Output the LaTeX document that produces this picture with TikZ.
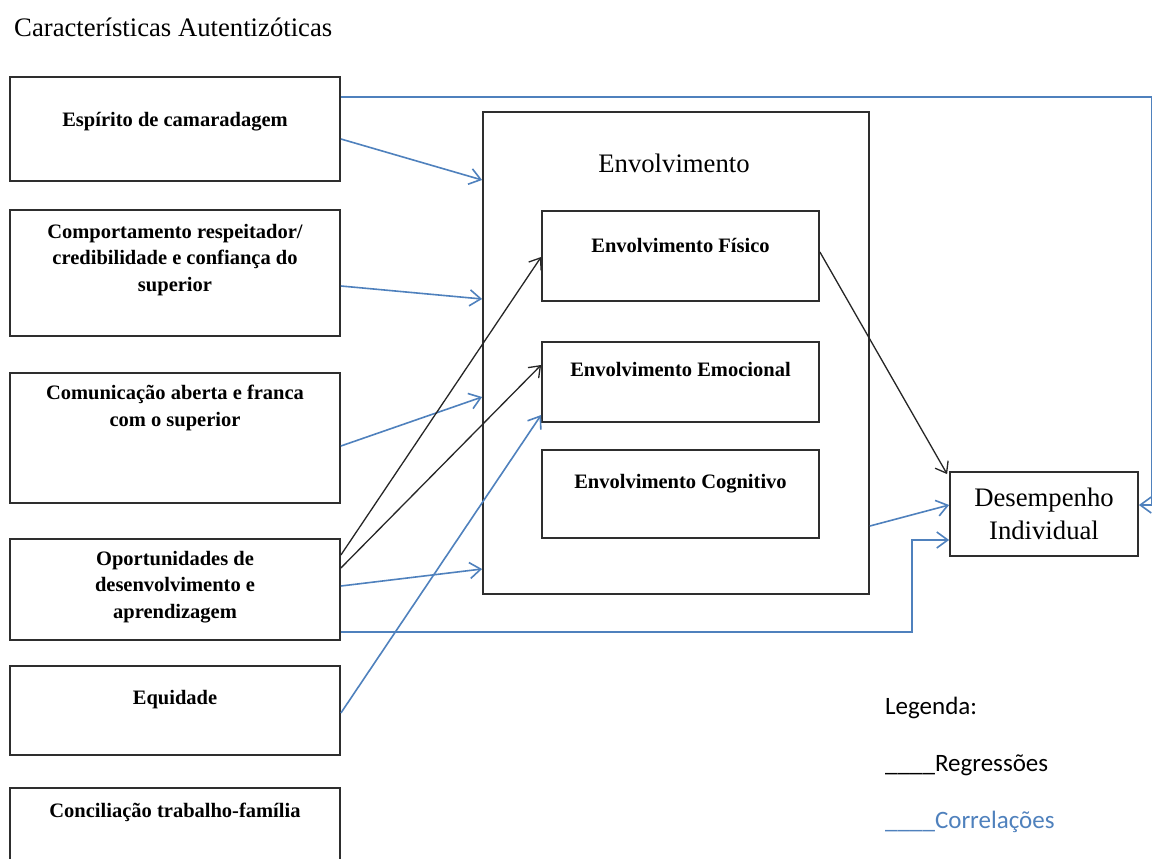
\documentclass[tikz,border=0pt]{standalone}
\usepackage{fontspec}
\setmainfont{Liberation Serif}
\newfontfamily\legfont{Carlito}
\usetikzlibrary{arrows.meta,calc}
\definecolor{corrblue}{HTML}{4F81BD}
\definecolor{boxline}{HTML}{2E2E2E}
\tikzset{
  lbox/.style={draw=boxline, line width=1.8pt, minimum width=330pt, inner sep=0pt},
  ibox/.style={draw=boxline, line width=1.8pt, minimum width=277pt, inner sep=0pt},
  btext/.style={font=\fontsize{20.5}{26.5}\selectfont\bfseries, align=center, inner sep=0pt},
  bigtext/.style={font=\fontsize{26.7}{33}\selectfont, align=center, inner sep=0pt},
  legtext/.style={font=\legfont\fontsize{25}{29}\selectfont, anchor=west, inner sep=0pt},
  reg/.style={draw=black!85, line width=1.3pt, -{Straight Barb[length=10pt,width=15pt]}},
  corr/.style={draw=corrblue, line width=1.6pt, -{Straight Barb[length=11pt,width=16pt]}}
}
\begin{document}
\begin{tikzpicture}[x=1pt,y=-1pt]
\clip (0,0) rectangle (1152,859);
\fill[white] (0,0) rectangle (1152,859);

\node[bigtext, anchor=west] (title) at (14,27) {Características Autentizóticas};

% left boxes
\node[lbox, minimum height=104pt] (b1) at (175,129) {};
\node[lbox, minimum height=126pt] (b2) at (175,273) {};
\node[lbox, minimum height=130pt] (b3) at (175,438) {};
\node[lbox, minimum height=101pt] (b4) at (175,589.5) {};
\node[lbox, minimum height=89pt] (b5) at (175,710.5) {};
\node[lbox, minimum height=92pt] (b6) at (175,834) {};

\node[btext] (t1) at (175,122) {Espírito de camaradagem};
\node[btext] (t2) at (175,260) {Comportamento respeitador/\\credibilidade e confiança do\\superior};
\node[btext] (t3) at (175,408) {Comunicação aberta e franca\\com o superior};
\node[btext] (t4) at (175,587) {Oportunidades de\\desenvolvimento e\\aprendizagem};
\node[btext] (t5) at (175,700) {Equidade};
\node[btext] (t6) at (175,812) {Conciliação trabalho-família};

% Envolvimento
\node[draw=boxline, line width=1.8pt, minimum width=386pt, minimum height=482pt, inner sep=0pt] (env) at (676,353) {};
\node[bigtext] (envt) at (674,163) {Envolvimento};
\node[ibox, minimum height=90pt] (fis) at (680.5,256) {};
\node[ibox, minimum height=80pt] (emo) at (680.5,382) {};
\node[ibox, minimum height=88pt] (cog) at (680.5,494) {};
\node[btext] (fist) at (680.5,245) {Envolvimento Físico};
\node[btext] (emot) at (680.5,369) {Envolvimento Emocional};
\node[btext] (cogt) at (680.5,484) {Envolvimento Cognitivo};

% Desempenho
\node[draw=boxline, line width=1.8pt, minimum width=188pt, minimum height=84pt, inner sep=0pt] (des) at (1044,514) {};
\node[bigtext] (dest) at (1044,514) {Desempenho\\Individual};

% connectors
\draw[corr] ([yshift=-10pt]b1.east) -- ([yshift=173pt]env.west);
\draw[corr] ([yshift=-13pt]b2.east) -- ([yshift=54pt]env.west);
\draw[corr] ([yshift=-8pt]b3.east) -- ([yshift=-44pt]env.west);
\draw[corr] ([yshift=3.5pt]b4.east) -- ([yshift=-216pt]env.west);
\draw[reg] ([yshift=34.5pt]b4.east) -- ([yshift=-1pt]fis.west);
\draw[reg] ([yshift=21.5pt]b4.east) -- ([yshift=17pt]emo.west);
\draw[corr] ([yshift=-2.5pt]b5.east) -- ([yshift=-33pt]emo.west);
\coordinate (c8) at (912,540);
\draw[corr] ([yshift=-42.5pt]b4.east) -| (c8) -- ([yshift=-26pt]des.west);
\draw[corr] ([yshift=-173pt]env.east) -- ([yshift=9pt]des.west);
\draw[reg] ([yshift=4pt]fis.east) -- ([xshift=-2pt,yshift=-3pt]des.north west);
\coordinate (rc) at (1151.5,505);
\draw[corr] ([yshift=32pt]b1.east) -| (rc) -- ([yshift=9pt]des.east);

% legend
\node[legtext] (leg) at (885,708) {Legenda:};
\node[legtext] (lreg) at (885,765) {\_\_\_\_Regressões};
\node[legtext, text=corrblue] (lcor) at (885,822) {\_\_\_\_Correlações};
\end{tikzpicture}
\end{document}
